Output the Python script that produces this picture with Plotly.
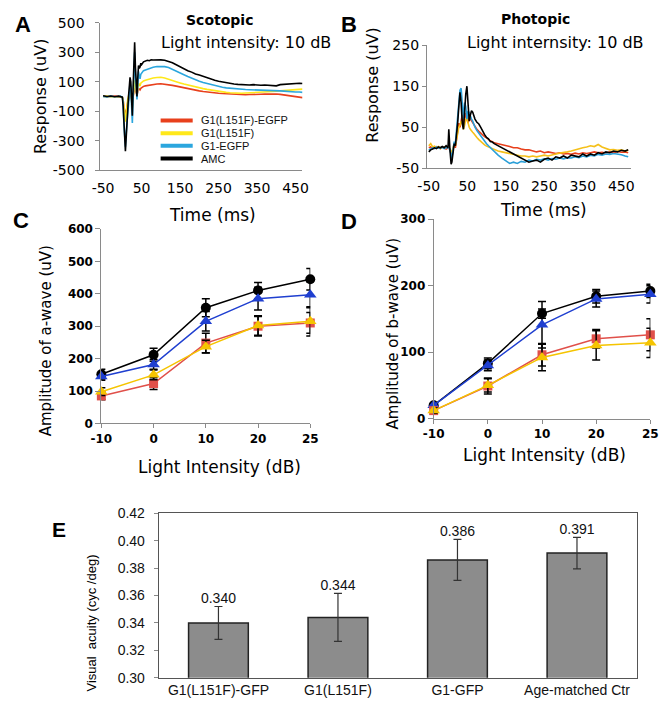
import plotly.graph_objects as go

W, H = 670, 714


def px(x):
    return x / W


def py(y):
    return 1 - y / H


# ---------------- Panel A: scotopic ERG traces ----------------
t_scot = [-50, -40, -30, -20, -10, -5,
          0, 2, 4, 6, 8, 10, 12, 14, 16, 18, 20, 22, 24, 26, 28, 30, 32, 34, 36, 38, 40, 42, 44, 46, 48, 50,
          55, 60, 65, 70, 75, 80,
          90, 100, 110, 120, 130, 140, 150, 160, 170, 180, 190, 200, 210, 220, 230, 240, 250, 260, 270, 280,
          290, 300, 310, 320, 330, 340, 350, 360, 370, 380, 390, 400, 410, 420, 430, 440, 450, 460,
          468]
scot_amc = [5, 0, 3, -2, 2, 0,
            -5, -60, -200, -330, -370, -280, -150, -60, 0, 60, 130, 100, -40, -130, 60, 250, 367, 200, 40, 0,
            120, 210, 190, 200, 225, 215,
            235, 240, 245, 242, 248, 247,
            250, 248, 245, 238, 228, 215, 200, 188, 175, 165, 152, 145, 135, 125, 118, 110, 103, 97, 92, 88,
            84, 82, 80, 79, 78, 80, 77, 76, 78, 75, 70, 72, 80, 82, 85, 88, 92, 90,
            88]
scot_g1egfp = [0, -3, 2, -2, 0, 2,
               -5, -40, -180, -320, -340, -250, -150, -120, -60, 20, 100, 60, -100, -180, -20, 200, 300, 150, 30,
               -20, 60, 170, 140, 120, 150, 160,
               175, 180, 185, 190, 195, 198,
               203, 205, 202, 196, 185, 173, 160, 147, 135, 123, 112, 103, 95, 88, 80, 72, 67, 62, 58, 55,
               52, 50, 48, 47, 46, 45, 45, 46, 44, 46, 42, 40, 38, 36, 33, 32, 30, 30,
               28]
scot_l151f = [0, 2, -2, 1, -1, 0,
              -5, -20, -80, -150, -170, -120, -60, -20, 0, 20, 40, 30, -40, -80, -10, 60, 110, 70, 20, 10,
              50, 90, 80, 70, 90, 95,
              105, 110, 115, 118, 122, 125,
              128, 130, 125, 118, 110, 100, 92, 84, 77, 70, 64, 58, 53, 48, 43, 38, 34, 31, 28, 25,
              23, 22, 22, 23, 24, 25, 27, 28, 30, 32, 34, 36, 38, 40, 42, 45, 47, 48,
              50]
scot_l151f_egfp = [2, -2, 0, 3, -1, 0,
                   -5, -20, -70, -120, -130, -100, -60, -40, -30, -10, 20, 10, -20, -40, 0, 40, 60, 40, 15, 10,
                   30, 55, 50, 45, 55, 60,
                   68, 72, 75, 78, 80, 83,
                   85, 86, 84, 80, 75, 70, 64, 58, 52, 47, 43, 38, 34, 30, 27, 24, 22, 20, 18, 16,
                   14, 13, 12, 12, 13, 12, 14, 15, 16, 17, 18, 17, 14, 10, 6, 3, 0, -5,
                   -8]

# ---------------- Panel B: photopic ERG traces ----------------
t_phot = [-50, -45, -40, -35, -30, -25, -20, -15, -10, -5, 0,
          2, 5, 8, 10, 13, 16, 19, 22, 25, 28, 31, 34, 37, 40, 43, 46, 49, 52, 55, 58, 61, 64, 67, 70,
          75, 80, 85, 90, 95, 100, 105, 110, 115, 120,
          130, 140, 150, 160, 170, 180, 190, 200, 210, 220, 230, 240, 250, 260, 270, 280, 290, 300,
          310, 320, 330, 340, 350, 360, 370, 380, 390, 400, 410, 420, 430, 440, 450, 460,
          468]
phot_amc = [-10, -5, -3, 0, -2, 2, 0, 3, 0, 5, 0,
            45, -5, -40, -35, -10, 10, 5, 30, 60, 100, 135, 110, 60, 45, 90, 130, 150, 110, 65, 80, 90, 87, 75, 70,
            62, 58, 50, 40, 32, 25, 22, 15, 14, 10,
            5, 0, -5, -10, -15, -20, -25, -30, -35, -32, -30, -35, -28, -25, -30, -22, -25, -20,
            -25, -18, -20, -22, -15, -20, -15, -18, -12, -15, -10, -12, -8, -10, -6, -8,
            -5]
phot_g1egfp = [-5, -3, 0, -2, 2, -1, 0, 1, -2, 0, 0,
               0, -5, -20, -25, -5, 15, 10, 40, 80, 110, 140, 145, 100, 70, 110, 100, 70, 90, 85, 75, 70, 65, 55, 50,
               42, 35, 28, 22, 15, 10, 5, 0, -5, -10,
               -18, -25, -32, -38, -35, -38, -33, -35, -30, -32, -28, -30, -27, -30, -26, -28, -25, -27,
               -24, -25, -22, -24, -20, -22, -18, -20, -16, -18, -15, -16, -14, -15, -17, -20,
               -22]
phot_l151f_egfp = [0, 2, -2, 0, 3, 0, -2, 2, 0, -3, 0,
                   0, -5, -15, -20, -5, 10, 0, 20, 40, 60, 50, 70, 80, 55, 75, 85, 70, 60, 75, 70, 65, 60, 55, 50,
                   45, 40, 35, 30, 27, 24, 20, 17, 15, 12,
                   10, 8, 5, 3, 0, 0, -3, -5, -5, -8, -10, -8, -12, -10, -12, -14, -12, -15,
                   -14, -16, -13, -15, -12, -14, -12, -10, -12, -11, -13, -10, -12, -9, -11, -10,
                   -12]
phot_l151f = [5, 10, 2, 4, 0, 3, -2, 2, 0, 3, 2,
              0, -3, -10, -12, 0, 10, 5, 20, 35, 50, 55, 65, 60, 45, 55, 70, 72, 60, 50, 45, 40, 38, 35, 30,
              25, 20, 15, 10, 7, 4, 2, 0, -2, -5,
              -8, -10, -12, -14, -16, -18, -20, -20, -22, -20, -22, -20, -18, -20, -17, -15, -13, -12,
              -10, -8, -5, -3, 0, 2, 5, 3, 8, 2, -2, -5, -4, -6, -5, -8,
              -6]

series_names = ["G1(L151F)-EGFP", "G1(L151F)", "G1-EGFP", "AMC"]

# tick values
time_ticks = [-50, 50, 150, 250, 350, 450]
scot_ticks = [-500, -300, -100, 100, 300, 500]
phot_ticks = [-50, 50, 150, 250]
a_ticks = [0, 100, 200, 300, 400, 500, 600]
b_ticks = [0, 100, 200, 300]

# ---------------- Panels C & D: intensity-response ----------------
intensity = ["-10", "0", "10", "20", "25"]
a_amc = [152, 212, 357, 410, 445]
a_amc_err = [15, 20, 28, 25, 33]
a_g1egfp = [145, 182, 315, 385, 397]
a_g1egfp_err = [12, 15, 30, 35, 40]
a_l151f_egfp = [85, 123, 248, 300, 310]
a_l151f_egfp_err = [12, 18, 30, 30, 32]
a_l151f = [98, 150, 237, 302, 315]
a_l151f_err = [12, 15, 20, 30, 45]

b_amc = [20, 83, 158, 184, 192]
b_amc_err = [4, 8, 7, 10, 10]
b_g1egfp = [20, 80, 141, 180, 187]
b_g1egfp_err = [4, 8, 35, 12, 13]
b_l151f_egfp = [12, 49, 96, 120, 126]
b_l151f_egfp_err = [4, 12, 17, 14, 24]
b_l151f = [12, 50, 92, 110, 114]
b_l151f_err = [4, 10, 20, 22, 22]

# ---------------- Panel E: visual acuity ----------------
groups = ["G1(L151F)-GFP", "G1(L151F)", "G1-GFP", "Age-matched Ctr"]
acuity = [0.340, 0.344, 0.386, 0.391]
acuity_err = [0.012, 0.0175, 0.015, 0.0115]
acuity_ticks = [0.30, 0.32, 0.34, 0.36, 0.38, 0.40, 0.42]

VER = "DejaVu Sans"
ARIAL = "Liberation Sans"

fig = go.Figure()

# Panel A traces
colA = {"red": "#e8401c", "yel": "#ffe81a", "blu": "#2ba6de", "blk": "#000000"}
for ys, c in [(scot_l151f_egfp, colA["red"]), (scot_l151f, colA["yel"]),
              (scot_g1egfp, colA["blu"]), (scot_amc, colA["blk"])]:
    fig.add_trace(go.Scatter(x=t_scot, y=ys, mode="lines", line=dict(color=c, width=1.6),
                             xaxis="x", yaxis="y", showlegend=False))

# Panel B traces
colB = {"red": "#e8401c", "yel": "#f5c01a", "blu": "#2a9fd8", "blk": "#000000"}
for ys, c in [(phot_l151f_egfp, colB["red"]), (phot_l151f, colB["yel"]),
              (phot_g1egfp, colB["blu"]), (phot_amc, colB["blk"])]:
    fig.add_trace(go.Scatter(x=t_phot, y=ys, mode="lines", line=dict(color=c, width=1.6),
                             xaxis="x2", yaxis="y2", showlegend=False))

# Panels C and D
idx = list(range(len(intensity)))
specs_line = [
    ("#000000", "circle", 10),
    ("#1f3fd0", "triangle-up", 11),
    ("#e0504a", "square", 9),
    ("#f5c400", "triangle-up", 11),
]
for (ax, ay, sets) in [
    ("x3", "y3", [(a_amc, a_amc_err), (a_g1egfp, a_g1egfp_err), (a_l151f_egfp, a_l151f_egfp_err), (a_l151f, a_l151f_err)]),
    ("x4", "y4", [(b_amc, b_amc_err), (b_g1egfp, b_g1egfp_err), (b_l151f_egfp, b_l151f_egfp_err), (b_l151f, b_l151f_err)]),
]:
    for (vals, errs), (c, sym, sz) in zip(sets, specs_line):
        fig.add_trace(go.Scatter(
            x=idx, y=vals, mode="lines+markers",
            line=dict(color=c, width=1.5),
            marker=dict(color=c, symbol=sym, size=sz),
            error_y=dict(type="data", array=errs, color="#000000", thickness=1.5, width=4),
            xaxis=ax, yaxis=ay, showlegend=False, cliponaxis=False))

# Panel E
fig.add_trace(go.Bar(
    x=groups, y=acuity, width=0.5,
    marker=dict(color="#8c8c8c", line=dict(color="#222222", width=1.5)),
    error_y=dict(type="data", array=acuity_err, color="#333333", thickness=1.2, width=4),
    xaxis="x5", yaxis="y5", showlegend=False))
fig.add_trace(go.Scatter(
    x=groups, y=[v + e for v, e in zip(acuity, acuity_err)], mode="text",
    text=[f"{v:.3f}" for v in acuity], textposition="top center",
    textfont=dict(family=ARIAL, size=14, color="#111"),
    xaxis="x5", yaxis="y5", showlegend=False, cliponaxis=False))

axis_line = "#8a8a8a"


def hy(vals):
    return [str(v) for v in vals]


def xax(dom, rng, tickvals, ticktext=None, font=None, ticklen=5, tickcolor="rgba(0,0,0,0)", anchor="y"):
    return dict(domain=dom, range=rng, tickvals=tickvals, ticktext=ticktext or hy(tickvals),
                showline=True, linecolor=axis_line, linewidth=1,
                showgrid=False, zeroline=False, ticks="outside", ticklen=ticklen, tickcolor=tickcolor,
                tickfont=font or dict(family=VER, size=14, color="#000"), anchor=anchor)


def yax(dom, rng, tickvals, font=None, anchor="x", standoff=0, ticklen=4):
    return dict(domain=dom, range=rng, tickvals=tickvals, ticktext=hy(tickvals),
                showline=True, linecolor=axis_line, linewidth=1,
                showgrid=False, zeroline=False, ticks="outside", ticklen=ticklen, tickcolor=axis_line,
                tickfont=font or dict(family=VER, size=14, color="#000"), anchor=anchor,
                ticklabelstandoff=standoff)


boldfont = dict(family=VER, size=12, color="#000", weight="bold")

fig.update_layout(
    width=W, height=714, margin=dict(l=0, r=0, t=0, b=0),
    paper_bgcolor="white", plot_bgcolor="white", showlegend=False,
    xaxis=xax([px(92), px(300)], [-57, 468], time_ticks, anchor="y"),
    yaxis=yax([py(166), py(15)], [-500, 500], scot_ticks, anchor="x", standoff=8),
    xaxis2=xax([px(428), px(638)], [-55, 475], time_ticks, anchor="y2"),
    yaxis2=yax([py(164), py(38)], [-50, 250], phot_ticks, anchor="x2"),
    xaxis3=xax([px(93), px(308)], [0, 4], idx, intensity, font=boldfont, ticklen=4, tickcolor=axis_line, anchor="y3"),
    yaxis3=yax([py(425), py(226)], [0, 600], a_ticks, font=boldfont, anchor="x3", ticklen=5),
    xaxis4=xax([px(435), px(658)], [0, 4], idx, intensity, font=boldfont, ticklen=4, tickcolor=axis_line, anchor="y4"),
    yaxis4=yax([py(420), py(216)], [0, 300], b_ticks, font=boldfont, anchor="x4", ticklen=5),
    xaxis5=dict(domain=[px(152), px(644)], range=[-0.5, 3.5], type="category", showline=True, mirror=True,
                linecolor="#555", linewidth=1, showgrid=False, zeroline=False, ticks="", anchor="y5",
                tickfont=dict(family=ARIAL, size=14, color="#111")),
    yaxis5=dict(domain=[py(685), py(517)], range=[0.30, 0.42], tickvals=acuity_ticks,
                tickformat=".2f", showline=True, mirror=True, linecolor="#555", linewidth=1, showgrid=False,
                zeroline=False, ticks="outside", ticklen=4, tickcolor="#888", anchor="x5",
                tickfont=dict(family=ARIAL, size=14, color="#111"), ticklabelstandoff=6),
)

ann = []


def text(x, y, s, size, family=VER, bold=False, angle=0, xanchor="center", color="#000"):
    ann.append(dict(x=px(x), y=py(y), xref="paper", yref="paper", text=s, showarrow=False,
                    xanchor=xanchor, yanchor="middle", textangle=angle,
                    font=dict(family=family, size=size, color=color, weight="bold" if bold else "normal")))


# panel letters
text(12, 17, "A", 22, ARIAL, True)
text(348, 17, "B", 22, ARIAL, True)
text(10, 217, "C", 22, ARIAL, True)
text(348, 218, "D", 22, ARIAL, True)
text(49, 533, "E", 21, ARIAL, True)
# titles
text(215, 12, "Scotopic", 14, VER, True)
text(242, 35, "Light intensity: 10 dB", 16)
text(540, 11, "Photopic", 14, VER, True)
text(560, 35, "Light internsity: 10 dB", 16)
# axis titles
text(31, 90, "Response (uV)", 16, angle=-90)
text(372, 78, "Response (uV)", 16, angle=-90)
text(207, 212, "Time (ms)", 17)
text(548, 207, "Time (ms)", 17)
text(36, 340, "Amplitude of a-wave (uV)", 15, angle=-90)
text(393, 333, "Amplitude of b-wave (uV)", 15, angle=-90)
text(215, 470, "Light Intensity (dB)", 17)
text(549, 457, "Light Intensity (dB)", 17)
text(83, 629, "Visual  acuity (cyc /deg)", 13, ARIAL, angle=-90)

# legend for panel A
leg_y = [115, 128, 141, 154]
for name, c, yy in zip(series_names, [colA["red"], colA["yel"], colA["blu"], colA["blk"]], leg_y):
    fig.add_shape(type="line", xref="paper", yref="paper", x0=px(154), x1=px(187), y0=py(yy), y1=py(yy),
                  line=dict(color=c, width=4))
    text(193, yy, name, 11, ARIAL, xanchor="left", color="#111")

fig.update_layout(annotations=ann)
fig.write_html("out.html", config={"displayModeBar": False},
               post_script="document.body.style.margin='0';")
